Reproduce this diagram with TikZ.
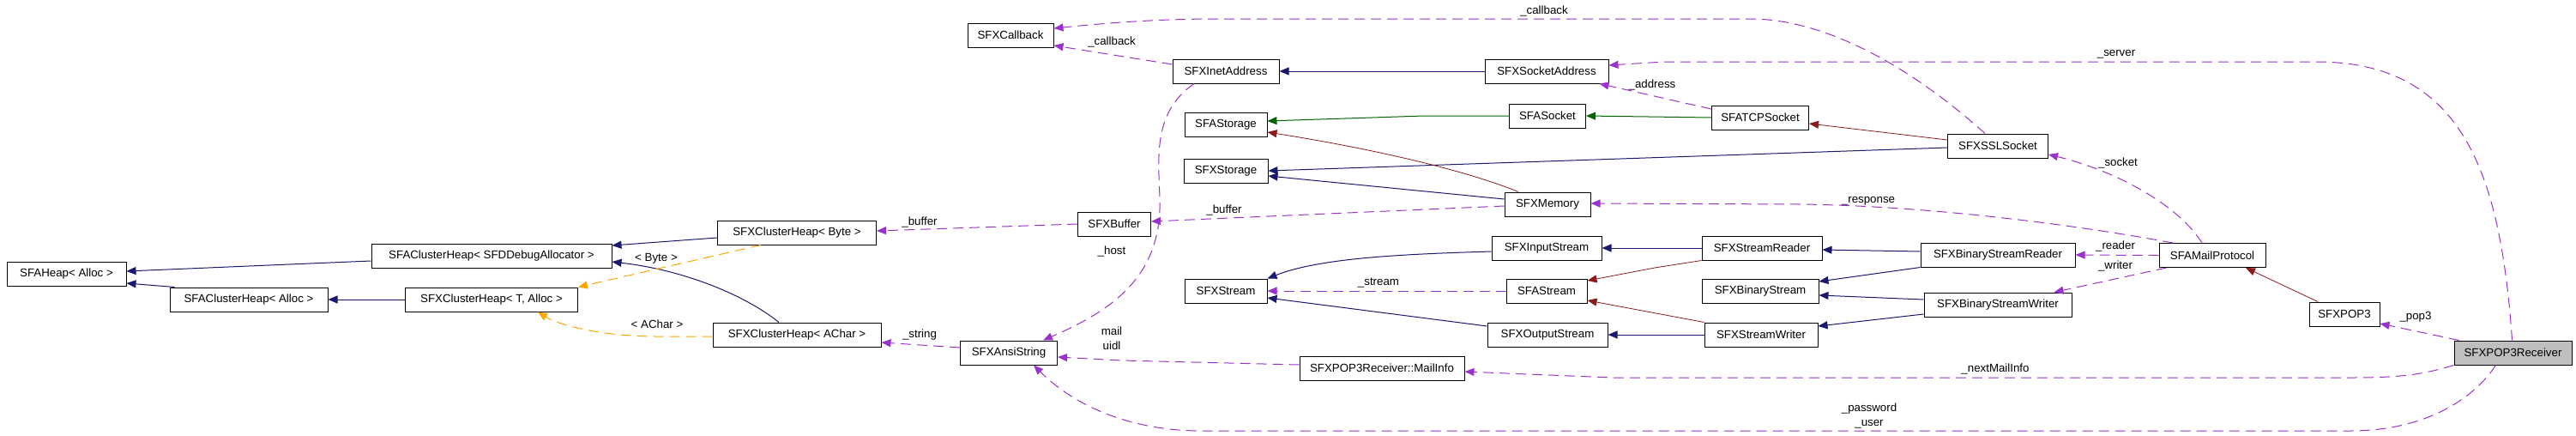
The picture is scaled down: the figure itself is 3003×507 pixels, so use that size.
\documentclass[tikz,border=0pt]{standalone}
\usepackage{fontspec}
\setmainfont{Liberation Sans}
\usetikzlibrary{arrows.meta}

\definecolor{pubblue}{RGB}{25,25,112}
\definecolor{protgreen}{RGB}{0,100,0}
\definecolor{privred}{RGB}{139,26,26}
\definecolor{usepurple}{RGB}{154,50,205}
\definecolor{tmplorange}{RGB}{255,165,0}
\definecolor{focusgray}{RGB}{191,191,191}

\begin{document}
\begin{tikzpicture}[x=1pt, y=-1pt,
    cls/.style={draw=black, line width=1pt, fill=white, minimum height=28pt, inner sep=0pt,
        font=\fontsize{13.3}{16}\selectfont},
    lbl/.style={inner sep=0pt, align=center, font=\fontsize{13.3}{17}\selectfont},
    rel/.style={line width=1pt, -{Triangle[length=11pt, width=9pt]}},
    pub/.style={rel, pubblue},
    prot/.style={rel, protgreen},
    priv/.style={rel, privred, line width=0.8pt},
    usage/.style={rel, usepurple, dash pattern=on 12pt off 7pt},
    tmpl/.style={rel, tmplorange, dash pattern=on 12pt off 7pt}]

    \useasboundingbox (0,0) rectangle (3003,507);

    % Heaps
    \node[cls, minimum width=139pt] (heap) at (77.5,319) {SFAHeap< Alloc >};
    \node[cls, minimum width=280pt] (clusterdbg) at (573,298) {SFAClusterHeap< SFDDebugAllocator >};
    \node[cls, minimum width=184pt] (clusteralloc) at (290,349) {SFAClusterHeap< Alloc >};
    \node[cls, minimum width=201pt] (xclustert) at (573,349) {SFXClusterHeap< T, Alloc >};
    \node[cls, minimum width=185pt] (xclusterbyte) at (929,271) {SFXClusterHeap< Byte >};
    \node[cls, minimum width=196pt] (xclusterachar) at (929,390) {SFXClusterHeap< AChar >};

    % Middle column
    \node[cls, minimum width=100pt] (callback) at (1178,41) {SFXCallback};
    \node[cls, minimum width=113pt] (ansistring) at (1176,411) {SFXAnsiString};
    \node[cls, minimum width=85pt] (buffer) at (1299,261) {SFXBuffer};
    \node[cls, minimum width=124pt] (inetaddr) at (1429,83) {SFXInetAddress};
    \node[cls, minimum width=96pt] (astorage) at (1429,145) {SFAStorage};
    \node[cls, minimum width=98pt] (xstorage) at (1429,199) {SFXStorage};
    \node[cls, minimum width=96pt] (xstream) at (1429,339) {SFXStream};
    \node[cls, minimum width=192pt] (mailinfo) at (1611,429) {SFXPOP3Receiver::MailInfo};

    \node[cls, minimum width=144pt] (sockaddr) at (1803,83) {SFXSocketAddress};
    \node[cls, minimum width=89pt] (asocket) at (1804,135) {SFASocket};
    \node[cls, minimum width=100pt] (memory) at (1804,238) {SFXMemory};
    \node[cls, minimum width=128pt] (inputstream) at (1803,289) {SFXInputStream};
    \node[cls, minimum width=94pt] (astream) at (1803,339) {SFAStream};
    \node[cls, minimum width=140pt] (outputstream) at (1804,390) {SFXOutputStream};

    \node[cls, minimum width=113pt] (tcpsocket) at (2052,137) {SFATCPSocket};
    \node[cls, minimum width=140pt] (streamreader) at (2054,289) {SFXStreamReader};
    \node[cls, minimum width=136pt] (binarystream) at (2052,339) {SFXBinaryStream};
    \node[cls, minimum width=132pt] (streamwriter) at (2053,390) {SFXStreamWriter};

    % Right side
    \node[cls, minimum width=117pt] (sslsocket) at (2329,170) {SFXSSLSocket};
    \node[cls, minimum width=180pt] (binreader) at (2329,297) {SFXBinaryStreamReader};
    \node[cls, minimum width=172pt] (binwriter) at (2329,355) {SFXBinaryStreamWriter};
    \node[cls, minimum width=124pt] (mailprotocol) at (2579,297.5) {SFAMailProtocol};
    \node[cls, minimum width=82pt] (pop3) at (2733,366) {SFXPOP3};
    \node[cls, minimum width=137pt, fill=focusgray] (receiver) at (2929.5,411) {SFXPOP3Receiver};

    % Inheritance
    \draw[pub] ([yshift=-6pt]clusterdbg.west) -- ([yshift=3pt]heap.east);
    \draw[pub] ([xshift=6pt]clusteralloc.north west) -- ([yshift=-11pt]heap.east);
    \draw[pub] (xclustert.west) -- (clusteralloc.east);
    \draw[pub] ([yshift=-6pt]xclusterbyte.west) -- ([yshift=12pt]clusterdbg.east);
    \draw[pub] ([xshift=-21pt]xclusterachar.north) .. controls (870,345) and (800,315) .. ([yshift=-7pt]clusterdbg.east);
    \draw[pub] (sockaddr.west) -- (inetaddr.east);
    \draw[prot] (asocket.west) -- (1660,135) -- ([yshift=4pt]astorage.east);
    \draw[prot] (tcpsocket.west) -- (asocket.east);
    \draw[priv] ([yshift=7pt]sslsocket.west) -- ([yshift=-7pt]tcpsocket.east);
    \draw[pub] ([yshift=-2pt]sslsocket.west) -- (xstorage.east);
    \draw[pub] ([yshift=6pt]memory.west) -- ([yshift=-6pt]xstorage.east);
    \draw[priv] ([xshift=-34pt]memory.north) .. controls (1700,195) and (1580,170) .. ([yshift=-9pt]astorage.east);
    \draw[pub] ([yshift=-4pt]inputstream.west) .. controls (1640,296) and (1540,300) .. (xstream.north east);
    \draw[pub] ([yshift=10pt]outputstream.west) -- ([yshift=-8pt]xstream.east);
    \draw[pub] (streamreader.west) -- (inputstream.east);
    \draw[priv] (streamreader.south west) -- (1929,312) -- ([yshift=12pt]astream.east);
    \draw[pub] (streamwriter.west) -- (outputstream.east);
    \draw[priv] (streamwriter.north west) -- ([yshift=-11pt]astream.east);
    \draw[pub] ([yshift=4pt]binreader.west) -- ([yshift=-2pt]streamreader.east);
    \draw[pub] (binreader.south west) -- ([yshift=11pt]binarystream.east);
    \draw[pub] ([yshift=6pt]binwriter.west) -- ([yshift=-5pt]binarystream.east);
    \draw[pub] ([yshift=-11pt]binwriter.west) -- ([yshift=10pt]streamwriter.east);
    \draw[priv] ([xshift=-31pt]pop3.north) -- ([xshift=39pt]mailprotocol.south);

    % Template instances
    \draw[tmpl] ([xshift=-42pt]xclusterbyte.south) -- (xclustert.north east);
    \draw[tmpl] ([yshift=-2pt]xclusterachar.west) -- (766,392) .. controls (700,392) and (650,378) .. ([xshift=54pt]xclustert.south);
    \node[lbl] (l-byte) at (765,301) {< Byte >};
    \node[lbl] (l-achar) at (766,378) {< AChar >};

    % Members
    \draw[usage] (buffer.west) -- ([yshift=2pt]xclusterbyte.east);
    \draw[usage] ([yshift=6pt]ansistring.west) -- ([yshift=-9pt]xclusterachar.east);
    \draw[usage] ([yshift=8pt]inetaddr.west) -- ([yshift=-12pt]callback.east);
    \draw[usage] ([xshift=-15pt]sslsocket.north) .. controls (2230,80) and (2130,22) .. (2040,22) -- (1420,22)
        .. controls (1330,22) and (1260,30) .. ([yshift=8pt]callback.east);
    \draw[usage] ([xshift=-37pt]inetaddr.south) .. controls (1345,130) and (1350,180) .. (1352,230)
        .. controls (1355,320) and (1300,360) .. ([xshift=40pt]ansistring.north);
    \draw[usage] ([yshift=10pt]tcpsocket.west) -- ([xshift=-11pt]sockaddr.south east);
    \draw[usage] ([yshift=-2pt]memory.west) -- ([yshift=3pt]buffer.east);
    \draw[usage] ([xshift=-46pt]mailprotocol.north) .. controls (2420,262) and (2250,240) .. (2100,238) -- ([yshift=1pt]memory.east);
    \draw[usage] ([xshift=-12pt]mailprotocol.north) .. controls (2540,240) and (2470,200) .. ([yshift=-10pt]sslsocket.east);
    \draw[usage] (mailprotocol.west) -- (binreader.east);
    \draw[usage] ([xshift=9pt]mailprotocol.south west) -- ([xshift=-21pt]binwriter.north east);
    \draw[usage] ([xshift=6pt]receiver.north west) -- ([yshift=-11pt]pop3.east);
    \draw[usage] ([xshift=-1pt]receiver.north) .. controls (2915,200) and (2870,72) .. (2700,72) -- (1940,72) -- ([yshift=7pt]sockaddr.east);
    \draw[usage] (receiver.south west) .. controls (2820,438) and (2790,440) .. (2740,440) -- (1880,440) -- ([yshift=-4pt]mailinfo.east);
    \draw[usage] ([xshift=-20pt]receiver.south) .. controls (2880,470) and (2820,502) .. (2740,502) -- (1400,502)
        .. controls (1330,502) and (1260,480) .. ([xshift=29pt]ansistring.south);
    \draw[usage] ([yshift=4pt]mailinfo.west) -- (1308,420) -- ([yshift=-5pt]ansistring.east);
    \draw[usage] (astream.west) -- (xstream.east);

    % Member labels
    \node[lbl] (l-buffer1) at (1072,259) {\_buffer};
    \node[lbl] (l-string) at (1072,390) {\_string};
    \node[lbl] (l-callback1) at (1296,49) {\_callback};
    \node[lbl] (l-callback2) at (1800,13) {\_callback};
    \node[lbl] (l-host) at (1296,293) {\_host};
    \node[lbl] (l-buffer2) at (1427,245) {\_buffer};
    \node[lbl] (l-address) at (1926,99) {\_address};
    \node[lbl] (l-server) at (2467,63) {\_server};
    \node[lbl] (l-socket) at (2469,190) {\_socket};
    \node[lbl] (l-response) at (2178,234) {\_response};
    \node[lbl] (l-reader) at (2466,287) {\_reader};
    \node[lbl] (l-writer) at (2466,310) {\_writer};
    \node[lbl] (l-pop3) at (2816,369) {\_pop3};
    \node[lbl] (l-stream) at (1607,330) {\_stream};
    \node[lbl] (l-mail) at (1296,394) {mail\\uidl};
    \node[lbl] (l-next) at (2326,430) {\_nextMailInfo};
    \node[lbl] (l-pass) at (2179,484) {\_password\\\_user};
\end{tikzpicture}
\end{document}
